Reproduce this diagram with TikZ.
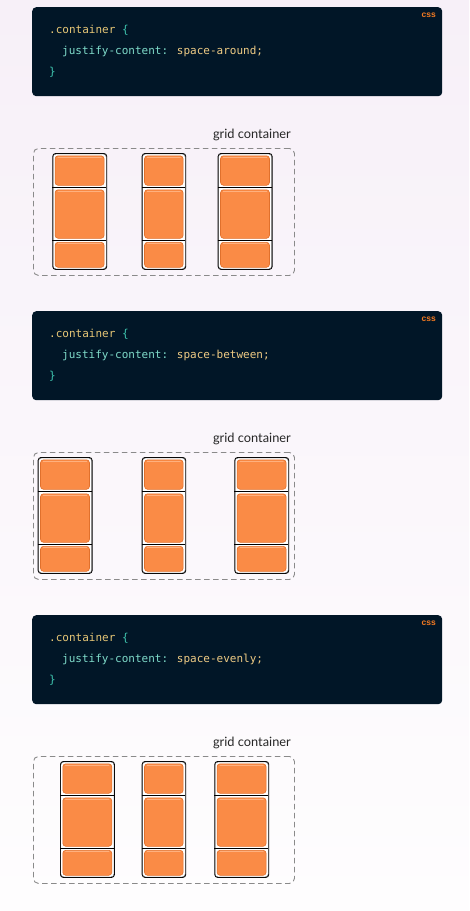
\documentclass[tikz,border=0pt]{standalone}
\usepackage{fontspec}
\newfontfamily\codefont{DejaVu Sans Mono}
\newfontfamily\labelfont{Lato}
\newfontfamily\tagfont{Liberation Sans}
\definecolor{bgtop}{HTML}{F7F0F8}
\definecolor{bgbot}{HTML}{FEFDFE}
\definecolor{codebg}{HTML}{011627}
\definecolor{selcol}{HTML}{E6C676}
\definecolor{bracecol}{HTML}{3FC6B0}
\definecolor{propcol}{HTML}{7FDBCA}
\definecolor{valcol}{HTML}{EFCB84}
\definecolor{tagcol}{HTML}{F37A22}
\definecolor{itemfill}{HTML}{FA8B46}
\definecolor{itemedge}{HTML}{E0702C}
\definecolor{itemhi}{HTML}{FFB07E}
\definecolor{dashcol}{HTML}{8A8A8A}
\tikzset{
  codebox/.style={rectangle, fill=codebg, rounded corners=4pt, inner sep=0pt, anchor=north west,
    minimum width=410pt, minimum height=89pt},
  codetext/.style={anchor=base west, inner sep=0pt, font=\codefont\fontsize{11}{13}\selectfont},
  csstag/.style={anchor=base east, inner sep=0pt, text=tagcol, font=\tagfont\bfseries\fontsize{8.5}{9}\selectfont},
  gridlabel/.style={anchor=base east, inner sep=0pt, text=black!85, font=\labelfont\fontsize{12.8}{14}\selectfont},
  gridbox/.style={rectangle, draw=dashcol, dash pattern=on 5.5pt off 3.5pt, line width=0.9pt,
    rounded corners=5pt, inner sep=0pt, anchor=north west, minimum width=261pt, minimum height=127pt},
  colbox/.style={rectangle, draw=black, fill=white, line width=0.9pt, rounded corners=3pt,
    inner sep=0pt, anchor=north west, minimum height=116pt},
  colsketch/.style={rectangle, draw=black!70, line width=0.35pt, rounded corners=3pt,
    inner sep=0pt, anchor=north west, minimum height=115pt},
  sepline/.style={draw=black, line width=0.8pt},
  itembox/.style={rectangle, fill=itemfill, draw=itemedge, line width=0.6pt, rounded corners=3pt,
    inner sep=0pt, anchor=north west},
  itemhilite/.style={draw=itemhi, line width=0.6pt, line cap=round},
}
% column: #1 name, #2 left x, #3 width, #4 vertical offset
\newcommand\gcolumn[4]{%
  \node[colbox, minimum width=#3pt] (#1) at (#2,153+#4) {};
  \node[colsketch, minimum width=#3pt-0.8pt] (#1s) at (#2+0.6,153.8+#4) {};
  \draw[sepline] (#2,187.3+#4) -- (#2+#3,187.3+#4);
  \draw[sepline] (#2,240+#4) -- (#2+#3,240+#4);
  \node[itembox, minimum width=#3pt-5pt, minimum height=29.5pt] (#1a) at (#2+2.5,155.5+#4) {};
  \node[itembox, minimum width=#3pt-5pt, minimum height=48.5pt] (#1b) at (#2+2.5,189.5+#4) {};
  \node[itembox, minimum width=#3pt-5pt, minimum height=25pt] (#1c) at (#2+2.5,242+#4) {};
  \draw[itemhilite] ([xshift=3pt,yshift=-1.4pt]#1a.north west) -- ([xshift=-3pt,yshift=-1.4pt]#1a.north east);
  \draw[itemhilite] ([xshift=3pt,yshift=-1.4pt]#1b.north west) -- ([xshift=-3pt,yshift=-1.4pt]#1b.north east);
  \draw[itemhilite] ([xshift=3pt,yshift=-1.4pt]#1c.north west) -- ([xshift=-3pt,yshift=-1.4pt]#1c.north east);
}
% section: #1 suffix, #2 offset, #3 value text, #4 x1, #5 x3
\newcommand\csssection[5]{%
  \node[codebox] (code#1) at (32,7+#2) {};
  \node[csstag] (tag#1) at (436,17+#2) {css};
  \node[codetext, text=selcol] (sel#1) at (49,33.5+#2) {.container \textcolor{bracecol}{\{}};
  \node[codetext, text=propcol] (prop#1) at (62,54.5+#2) {justify-content: \textcolor{valcol}{#3;}};
  \node[codetext, text=bracecol] (close#1) at (49,75.5+#2) {\}};
  \node[gridlabel] (lab#1) at (291,138+#2) {grid container};
  \node[gridbox] (grid#1) at (33,148+#2) {};
  \gcolumn{c#1x}{#4}{54}{#2}
  \gcolumn{c#1y}{141.7}{43.6}{#2}
  \gcolumn{c#1z}{#5}{54}{#2}
}
\begin{document}
\begin{tikzpicture}[x=1pt,y=-1pt]
  \useasboundingbox (0,0) rectangle (469,911);
  \shade[top color=bgtop, bottom color=bgbot] (0,0) rectangle (469,911);
  \csssection{A}{0}{space-around}{52.3}{217.7}
  \csssection{B}{304}{space-between}{37.7}{234.3}
  \csssection{C}{608}{space-evenly}{60}{214.3}
\end{tikzpicture}
\end{document}
